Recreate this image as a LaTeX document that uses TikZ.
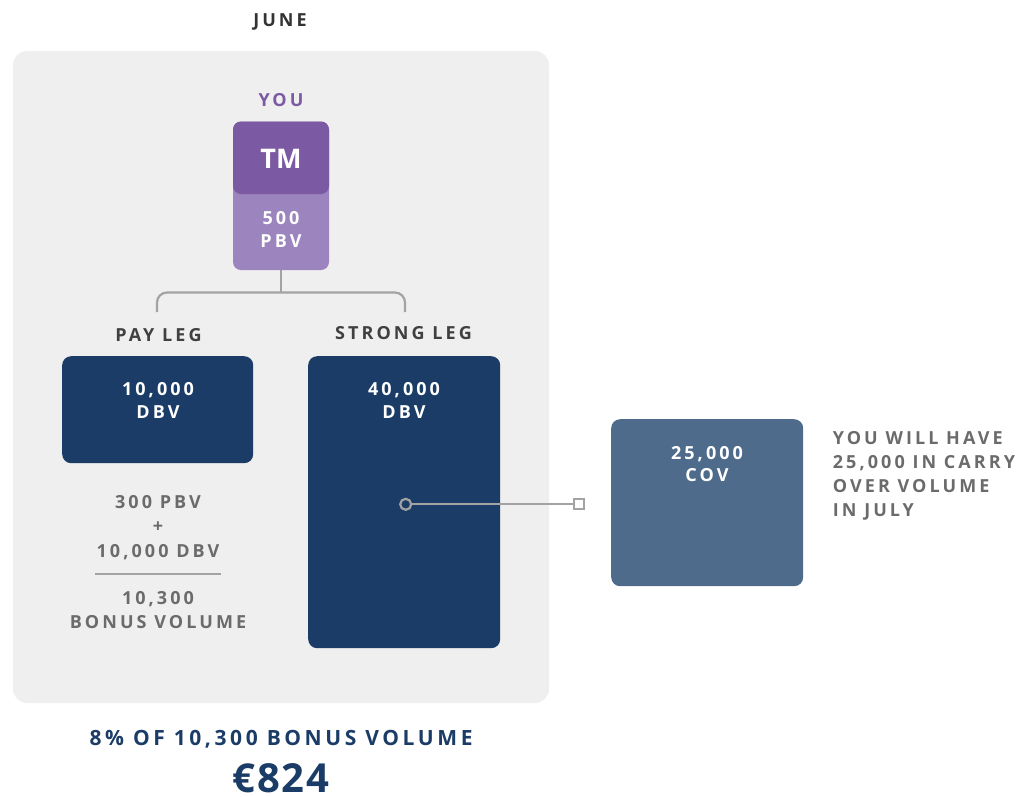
\documentclass[tikz,border=0pt]{standalone}
\usepackage{fontspec}
\setmainfont{Open Sans}
\newfontfamily\spA[LetterSpace=17]{Open Sans}
\newfontfamily\spN{Open Sans}
\newfontfamily\spE[LetterSpace=4]{Open Sans}
\definecolor{navy}{HTML}{1A3C66}
\definecolor{covblue}{HTML}{4F6B8C}
\definecolor{purpD}{HTML}{7B59A3}
\definecolor{purpL}{HTML}{9C84BE}
\definecolor{panelC}{HTML}{EFEFEF}
\definecolor{lineG}{HTML}{A3A3A3}
\definecolor{txtG}{HTML}{6B6B6B}
\definecolor{txtD}{HTML}{404040}
\definecolor{juneC}{HTML}{333333}
\tikzset{
  boxshape/.style={inner sep=0, draw=none, rounded corners=9},
  lbl/.style={inner sep=0, anchor=north, align=center, font=\spA\bfseries\fontsize{18}{23}\selectfont},
  lblL/.style={inner sep=0, anchor=north west, align=left, font=\spA\bfseries\fontsize{18}{24}\selectfont},
  conn/.style={draw=lineG, line width=2.2pt},
}
\begin{document}
\begin{tikzpicture}[x=1pt,y=-1pt]
\useasboundingbox (0,0) rectangle (1021,796);
% panel
\node[boxshape, fill=panelC, rounded corners=14, minimum width=536, minimum height=652] (panel) at (281,377) {};
% title
\node[lbl, text=juneC] (june) at (280,13.3) {JUNE};
\node[lbl, text=purpD] (you) at (281,93.3) {YOU};
% TM box
\node[boxshape, fill=purpL, rounded corners=8, minimum width=96, minimum height=148.5] (tmbox) at (281,195.75) {};
\node[boxshape, fill=purpD, rounded corners=8, minimum width=96, minimum height=72.5] (tmtop) at (281,157.75) {};
\node[inner sep=0, anchor=north, text=white, font=\spN\bfseries\fontsize{27}{30}\selectfont] (tm) at (281,149) {TM};
\node[lbl, text=white] (pbv) at (281,211) {500\\PBV};
% bracket
\coordinate (bl) at (157,312);
\coordinate (br) at (405,312);
\coordinate (bm) at (281,292.5);
\draw[conn] (tmbox.south) -- (bm);
\draw[conn, rounded corners=10] (bl) -- (157,292.5) -- (405,292.5) -- (br);
% leg labels
\node[lbl, text=txtD] (payleg) at (158.5,328) {PAY LEG};
\node[lbl, text=txtD] (strongleg) at (403.5,326) {STRONG LEG};
% leg boxes
\node[boxshape, fill=navy, minimum width=191, minimum height=107, anchor=north west] (paybox) at (62,356) {};
\node[boxshape, fill=navy, minimum width=192, minimum height=292, anchor=north west] (strongbox) at (308,356) {};
\node[lbl, text=white] (paytxt) at (158,382) {10,000\\DBV};
\node[lbl, text=white] (strongtxt) at (404,382) {40,000\\DBV};
% formula
\node[lbl, text=txtG, font=\spA\bfseries\fontsize{18}{24.5}\selectfont] (sum) at (158,495) {300 PBV\\+\\10,000 DBV};
\coordinate (ruleL) at (95,573.7);
\coordinate (ruleR) at (220.7,573.7);
\draw[draw=lineG, line width=2.2pt] (ruleL) -- (ruleR);
\node[lbl, text=txtG, font=\spA\bfseries\fontsize{18}{24}\selectfont] (bonus) at (158,591) {10,300\\BONUS VOLUME};
% COV box
\node[boxshape, fill=covblue, minimum width=192, minimum height=167, anchor=north west] (covbox) at (611,419) {};
\node[lbl, text=white, font=\spA\bfseries\fontsize{18}{22}\selectfont] (covtxt) at (707,446) {25,000\\COV};
\node[lblL, text=txtG] (note) at (832.7,431.7) {YOU WILL HAVE\\25,000 IN CARRY\\OVER VOLUME\\IN JULY};
% connector
\node[circle, draw=lineG, line width=2.2pt, minimum size=11, inner sep=0] (dot) at (405.7,504.3) {};
\node[rectangle, draw=lineG, fill=white, line width=2.2pt, minimum size=10, inner sep=0] (sq) at (579.3,504.3) {};
\draw[conn] (dot.east) -- (sq.west);
% bottom
\node[lbl, text=navy, font=\spA\bfseries\fontsize{21}{24}\selectfont] (pct) at (281,730) {8\% OF 10,300 BONUS VOLUME};
\node[inner sep=0, anchor=north, text depth=0pt, text height=29pt, text=navy, font=\spE\bfseries\fontsize{40}{44}\selectfont] (euro) at (281,763.5) {€824};
\end{tikzpicture}
\end{document}
